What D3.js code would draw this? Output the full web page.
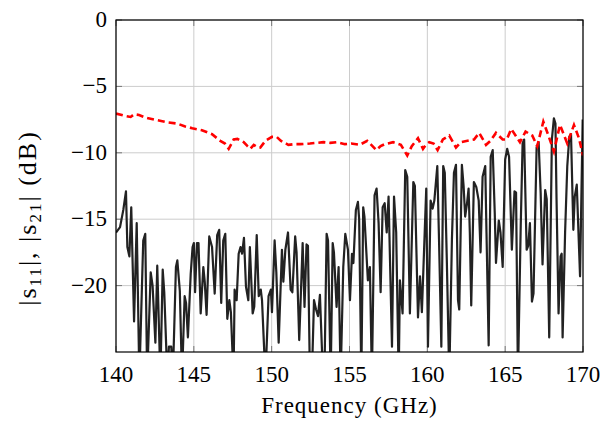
<!DOCTYPE html>
<html>
<head>
<meta charset="utf-8">
<script src="https://cdn.jsdelivr.net/npm/d3@7"></script>
<style>
  body { margin: 0; background: #fff; }
  text { font-family: "Liberation Serif", "DejaVu Serif", serif; }
</style>
</head>
<body>
<div id="chart"></div>
<script>
// tick values
const xTicks = [140, 145, 150, 155, 160, 165, 170];
const yTicks = [0, -5, -10, -15, -20];

// |S11| (black) - frequency in GHz and value in dB
const s11Freq = [140.0, 140.26, 140.47, 140.64, 140.73, 140.86, 140.98, 141.16, 141.33, 141.5, 141.75, 141.88, 142.0, 142.23, 142.35, 142.53, 142.65, 142.85, 143.0, 143.1, 143.3, 143.4, 143.55, 143.65, 143.85, 143.94, 144.1, 144.24, 144.41, 144.5, 144.62, 144.8, 144.92, 145.0, 145.08, 145.2, 145.3, 145.44, 145.61, 145.7, 145.82, 145.99, 146.17, 146.34, 146.5, 146.63, 146.76, 146.89, 147.02, 147.15, 147.28, 147.38, 147.55, 147.62, 147.75, 147.88, 148.0, 148.1, 148.22, 148.35, 148.5, 148.6, 148.78, 148.88, 149.04, 149.17, 149.3, 149.38, 149.6, 149.8, 149.95, 150.02, 150.19, 150.3, 150.45, 150.66, 150.75, 150.88, 151.05, 151.22, 151.33, 151.51, 151.6, 151.77, 151.85, 151.99, 152.11, 152.24, 152.33, 152.46, 152.58, 152.72, 152.85, 152.98, 153.1, 153.3, 153.4, 153.53, 153.62, 153.79, 153.92, 154.0, 154.17, 154.3, 154.43, 154.6, 154.73, 154.9, 155.03, 155.16, 155.25, 155.41, 155.54, 155.62, 155.76, 155.88, 155.96, 156.18, 156.31, 156.44, 156.61, 156.74, 156.87, 157.0, 157.13, 157.26, 157.39, 157.51, 157.6, 157.73, 157.86, 158.0, 158.16, 158.24, 158.41, 158.58, 158.71, 158.88, 159.1, 159.2, 159.4, 159.53, 159.65, 159.83, 159.93, 160.04, 160.21, 160.34, 160.45, 160.64, 160.75, 160.9, 161.02, 161.12, 161.25, 161.41, 161.58, 161.71, 161.84, 161.97, 162.05, 162.22, 162.33, 162.43, 162.55, 162.65, 162.73, 162.82, 162.99, 163.15, 163.3, 163.42, 163.55, 163.72, 163.8, 163.94, 164.07, 164.2, 164.33, 164.41, 164.59, 164.7, 164.84, 165.0, 165.13, 165.25, 165.43, 165.6, 165.7, 165.82, 166.0, 166.12, 166.22, 166.38, 166.48, 166.59, 166.72, 166.82, 167.02, 167.15, 167.28, 167.4, 167.57, 167.67, 167.83, 168.0, 168.13, 168.23, 168.3, 168.43, 168.56, 168.63, 168.69, 168.85, 168.99, 169.12, 169.23, 169.38, 169.47, 169.6, 169.81, 169.98];
const s11Val = [-16.0, -15.6, -14.3, -12.9, -17.1, -17.8, -14.1, -22.7, -15.3, -27, -16.6, -16.1, -27, -19.0, -20.0, -24.3, -18.5, -27, -18.8, -20.5, -27, -24.6, -24.6, -27, -18.6, -18.1, -20.4, -27, -20.8, -21.3, -23.9, -19.1, -17.1, -16.8, -20.5, -16.8, -16.8, -22.1, -18.6, -19.7, -22.2, -16.3, -17.1, -20.6, -16.2, -15.8, -21.3, -16.6, -16.1, -22.5, -21.1, -22.0, -27, -20.3, -21.1, -17.6, -17.1, -17.6, -16.4, -20.1, -21.1, -17.1, -22.1, -21.6, -16.2, -20.8, -20.3, -21.1, -27, -20.8, -20.3, -22.0, -16.6, -19.0, -24.3, -17.3, -19.7, -17.3, -16.0, -20.3, -20.5, -16.3, -17.5, -24.1, -21.5, -16.8, -21.6, -16.9, -17.0, -27, -27, -21.1, -21.8, -22.3, -20.7, -27, -26, -16.1, -16.6, -27, -16.8, -17.5, -21.6, -18.6, -27, -18.6, -16.1, -17.3, -21.1, -17.6, -18.3, -14.3, -13.7, -15.0, -27, -14.1, -14.8, -19.6, -18.6, -27, -13.2, -12.7, -15.3, -20.5, -14.1, -13.8, -16.0, -13.3, -18.0, -24.6, -13.3, -16.0, -27, -19.6, -22.1, -11.3, -11.8, -22.1, -12.2, -12.5, -22.4, -19.3, -22.0, -16.0, -12.7, -24.6, -13.6, -14.2, -13.6, -11.0, -16.5, -24.6, -11.0, -11.5, -18.0, -27, -16.5, -11.5, -10.9, -21.1, -21.8, -10.9, -12.5, -14.8, -13.8, -12.7, -16.0, -21.5, -12.2, -12.6, -13.6, -17.5, -11.8, -11.0, -16.0, -24.5, -10.3, -9.8, -14.5, -18.3, -15.1, -16.0, -18.6, -10.5, -9.7, -10.3, -17.3, -12.9, -13.0, -27, -15.5, -9.3, -9.0, -17.3, -17.0, -15.3, -21.2, -20.6, -9.6, -9.2, -13.0, -18.4, -12.8, -13.5, -23.9, -9.0, -7.4, -7.8, -13.5, -22.1, -17.8, -17.6, -23.9, -16.0, -11.0, -8.8, -8.6, -15.8, -13.3, -12.4, -19.3, -7.5];

// |S21| (red dashed)
const s21Freq = [140.0, 140.5, 140.94, 141.16, 141.48, 141.9, 142.44, 142.9, 143.3, 143.94, 144.4, 144.9, 145.52, 146.17, 146.7, 147.0, 147.24, 147.56, 147.8, 148.2, 148.45, 148.63, 148.85, 149.05, 149.27, 149.6, 150.02, 150.32, 150.6, 151.07, 151.45, 151.82, 152.46, 152.9, 153.32, 153.75, 154.17, 154.7, 155.11, 155.65, 156.14, 156.4, 156.72, 157.0, 157.26, 157.8, 158.3, 158.71, 159.0, 159.4, 159.72, 159.9, 160.12, 160.4, 160.66, 161.0, 161.41, 161.84, 162.15, 162.58, 163.0, 163.33, 163.77, 164.05, 164.41, 164.84, 165.1, 165.39, 165.95, 166.31, 166.74, 167.06, 167.45, 167.81, 168.13, 168.52, 168.99, 169.42, 169.74, 170.0];
const s21Val = [-7.05, -7.2, -7.3, -7.1, -7.15, -7.35, -7.5, -7.6, -7.7, -7.8, -8.0, -8.15, -8.3, -8.6, -9.1, -9.3, -9.7, -9.0, -8.95, -9.2, -9.5, -9.7, -9.4, -9.55, -9.6, -9.1, -8.8, -8.8, -9.1, -9.4, -9.35, -9.35, -9.3, -9.25, -9.2, -9.25, -9.2, -9.35, -9.3, -9.4, -9.1, -9.4, -9.8, -9.5, -9.35, -9.2, -9.4, -10.2, -9.5, -8.9, -9.7, -9.4, -9.2, -9.3, -9.8, -9.0, -8.7, -9.6, -9.2, -9.1, -9.0, -8.5, -9.4, -9.1, -8.5, -9.0, -9.0, -8.2, -9.2, -8.4, -8.7, -9.5, -7.65, -8.8, -9.9, -7.9, -9.3, -7.9, -8.9, -10.2];

const W = 616, H = 421;
const margin = { top: 20, right: 33, bottom: 69, left: 116 };
const width = W - margin.left - margin.right;
const height = H - margin.top - margin.bottom;
const serif = "'Liberation Serif', 'DejaVu Serif', serif";

const svg = d3.select("#chart").append("svg")
    .attr("width", W)
    .attr("height", H);

const g = svg.append("g")
    .attr("transform", `translate(${margin.left},${margin.top})`);

const x = d3.scaleLinear().domain([140, 170]).range([0, width]);
const y = d3.scaleLinear().domain([-25, 0]).range([height, 0]);

// grid
g.append("g").selectAll("line")
    .data(xTicks)
    .enter().append("line")
    .attr("x1", d => x(d)).attr("x2", d => x(d))
    .attr("y1", 0).attr("y2", height)
    .attr("stroke", "#cccccc").attr("stroke-width", 1);

g.append("g").selectAll("line")
    .data(yTicks)
    .enter().append("line")
    .attr("x1", 0).attr("x2", width)
    .attr("y1", d => y(d)).attr("y2", d => y(d))
    .attr("stroke", "#cccccc").attr("stroke-width", 1);

// tick marks (inside, both sides)
const tickLen = 6;
xTicks.forEach(t => {
    g.append("line").attr("x1", x(t)).attr("x2", x(t)).attr("y1", height).attr("y2", height - tickLen)
        .attr("stroke", "#777").attr("stroke-width", 1);
    g.append("line").attr("x1", x(t)).attr("x2", x(t)).attr("y1", 0).attr("y2", tickLen)
        .attr("stroke", "#777").attr("stroke-width", 1);
});
yTicks.forEach(t => {
    g.append("line").attr("x1", 0).attr("x2", tickLen).attr("y1", y(t)).attr("y2", y(t))
        .attr("stroke", "#777").attr("stroke-width", 1);
    g.append("line").attr("x1", width).attr("x2", width - tickLen).attr("y1", y(t)).attr("y2", y(t))
        .attr("stroke", "#777").attr("stroke-width", 1);
});

// clip
svg.append("defs").append("clipPath").attr("id", "clip")
    .append("rect").attr("width", width).attr("height", height);

const line = d3.line()
    .x(d => x(d[0]))
    .y(d => y(d[1]));

const plot = g.append("g").attr("clip-path", "url(#clip)");

plot.append("path")
    .datum(s11Freq.map((f, i) => [f, s11Val[i]]))
    .attr("fill", "none")
    .attr("stroke", "#222222")
    .attr("stroke-width", 2.2)
    .attr("stroke-linejoin", "round")
    .attr("d", line);

plot.append("path")
    .datum(s21Freq.map((f, i) => [f, s21Val[i]]))
    .attr("fill", "none")
    .attr("stroke", "#ff0000")
    .attr("stroke-width", 2.6)
    .attr("stroke-dasharray", "7,4")
    .attr("d", line);

// frame
g.append("rect")
    .attr("width", width).attr("height", height)
    .attr("fill", "none").attr("stroke", "#000").attr("stroke-width", 1.2);

// tick labels
const fmt = d => d < 0 ? "\u2212" + Math.abs(d) : String(d);

g.selectAll(".xlab")
    .data(xTicks)
    .enter().append("text")
    .attr("class", "xlab")
    .attr("x", d => x(d))
    .attr("y", height + 30)
    .attr("text-anchor", "middle")
    .style("font-family", serif)
    .style("font-size", "23px")
    .text(d => d);

g.selectAll(".ylab")
    .data(yTicks)
    .enter().append("text")
    .attr("class", "ylab")
    .attr("x", -9)
    .attr("y", d => y(d) + 7)
    .attr("text-anchor", "end")
    .style("font-family", serif)
    .style("font-size", "23px")
    .text(fmt);

// axis titles
g.append("text")
    .attr("x", width / 2)
    .attr("y", height + 61)
    .attr("text-anchor", "middle")
    .style("font-family", serif)
    .style("font-size", "23px")
    .style("letter-spacing", "1px")
    .text("Frequency (GHz)");

const yl = svg.append("text")
    .attr("transform", "translate(36,218) rotate(-90)")
    .attr("text-anchor", "middle")
    .style("font-family", serif)
    .style("font-size", "26px")
    .style("letter-spacing", "2px");
yl.append("tspan").text("|s");
yl.append("tspan").attr("dy", 5).style("font-size", "17px").text("11");
yl.append("tspan").attr("dy", -5).text("|, |s");
yl.append("tspan").attr("dy", 5).style("font-size", "17px").text("21");
yl.append("tspan").attr("dy", -5).text("| (dB)");
</script>
</body>
</html>
